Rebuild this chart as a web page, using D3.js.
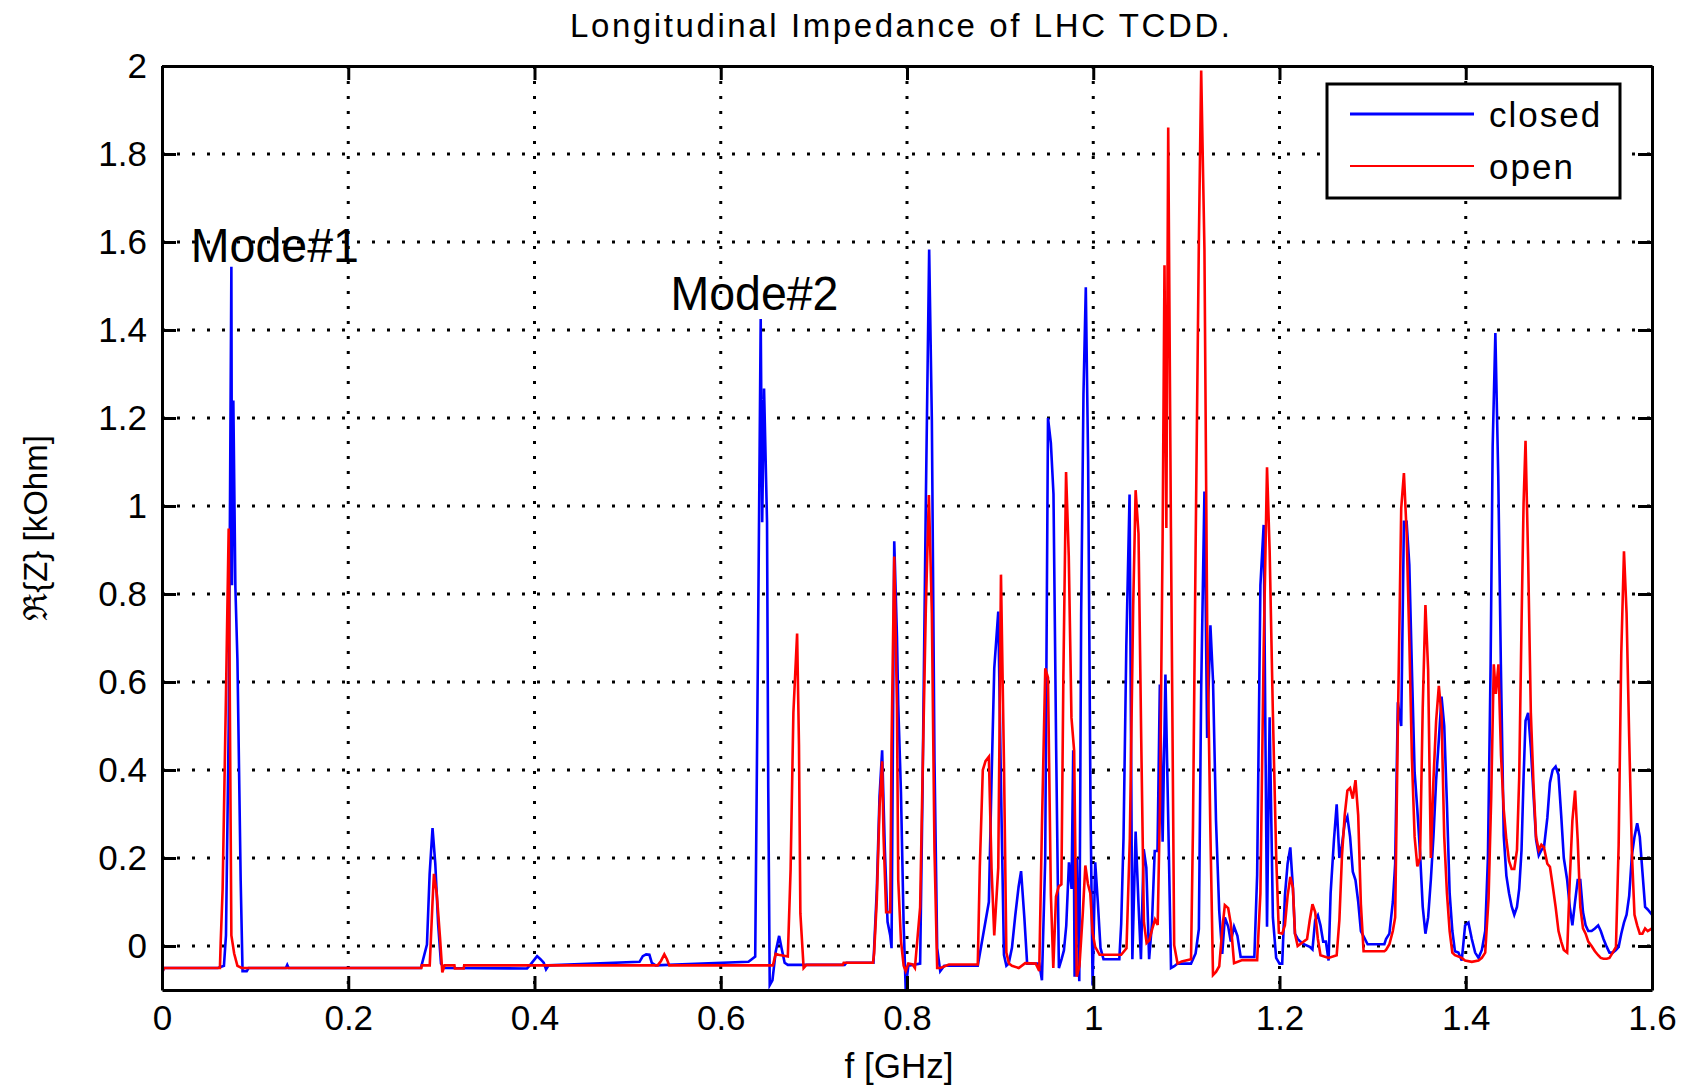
<!DOCTYPE html>
<html>
<head>
<meta charset="utf-8">
<script src="https://cdn.jsdelivr.net/npm/d3@7"></script>
<style>
  body { margin: 0; background: #fff; }
  text { font-family: "Liberation Sans", Arial, sans-serif; }
</style>
</head>
<body>
<div id="chart"></div>
<script>
// tick values
var xTicks = [0, 0.2, 0.4, 0.6, 0.8, 1, 1.2, 1.4, 1.6];
var yTicks = [0, 0.2, 0.4, 0.6, 0.8, 1, 1.2, 1.4, 1.6, 1.8, 2];

var seriesNames = ["closed", "open"];
var seriesColors = ["#0000ff", "#ff0000"];

// [f GHz, Re{Z} kOhm]
var closedPts = [
  [0,-0.062],[0.002,-0.05],[0.060,-0.05],[0.0665,-0.045],[0.0687,0.024],[0.0716,0.495],[0.0745,1.544],[0.0752,0.82],
  [0.0766,1.24],[0.0788,0.815],[0.081,0.65],[0.0845,0.147],[0.0865,-0.057],[0.091,-0.057],[0.093,-0.05],[0.133,-0.05],
  [0.1345,-0.043],[0.136,-0.05],[0.278,-0.05],[0.2845,0.003],[0.2874,0.164],[0.2905,0.268],[0.2935,0.186],[0.2965,0.05],
  [0.2996,-0.04],[0.303,-0.05],[0.392,-0.051],[0.395,-0.044],[0.4028,-0.023],[0.4064,-0.03],[0.4099,-0.038],[0.4124,-0.053],
  [0.4152,-0.044],[0.5128,-0.036],[0.5163,-0.023],[0.5199,-0.019],[0.5234,-0.02],[0.5259,-0.038],[0.53,-0.044],[0.6298,-0.036],
  [0.6333,-0.03],[0.637,-0.024],[0.640,0.686],[0.6429,1.425],[0.6445,0.963],[0.6465,1.267],[0.6497,0.963],[0.651,0.36],
  [0.6526,-0.089],[0.6555,-0.078],[0.659,-0.013],[0.6627,0.023],[0.6656,-0.008],[0.6686,-0.038],[0.672,-0.043],[0.733,-0.043],
  [0.735,-0.038],[0.764,-0.038],[0.7647,-0.005],[0.7676,0.129],[0.7705,0.34],[0.7733,0.445],[0.7762,0.22],[0.7791,0.055],
  [0.782,0.024],[0.7834,-0.005],[0.7863,0.92],[0.7892,0.705],[0.7906,0.548],[0.7935,0.35],[0.7964,0.048],[0.7986,-0.098],
  [0.8014,-0.045],[0.8141,-0.04],[0.8166,0.34],[0.8202,1.007],[0.8238,1.583],[0.8267,1.193],[0.8295,0.425],[0.8324,-0.005],
  [0.8357,-0.057],[0.84,-0.045],[0.876,-0.045],[0.8879,0.1],[0.8908,0.379],[0.8937,0.631],[0.898,0.76],[0.9009,0.367],
  [0.9041,-0.02],[0.9067,-0.045],[0.9092,-0.04],[0.9127,-0.004],[0.9163,0.07],[0.9198,0.134],[0.9225,0.17],[0.926,0.065],
  [0.929,-0.04],[0.942,-0.04],[0.9449,-0.078],[0.9484,0.196],[0.9514,1.2],[0.9545,1.143],[0.9573,1.027],[0.9602,0.444],
  [0.9631,-0.05],[0.966,-0.03],[0.9685,-0.01],[0.971,0.046],[0.9739,0.19],[0.9767,0.13],[0.9785,0.445],[0.98,-0.07],
  [0.9823,0.2],[0.985,-0.08],[0.987,0.75],[0.9895,1.255],[0.992,1.497],[0.9945,1.1],[0.997,0.328],[0.9993,-0.09],
  [1.0021,0.19],[1.0049,0.1],[1.0078,-0.005],[1.011,-0.03],[1.028,-0.03],[1.03,0.05],[1.0325,0.245],[1.0355,0.68],
  [1.039,1.026],[1.042,-0.03],[1.0455,0.26],[1.0485,0.1],[1.0512,-0.03],[1.0542,0.22],[1.057,0.178],[1.06,-0.03],
  [1.063,0.05],[1.066,0.216],[1.069,0.216],[1.0715,0.594],[1.0745,0.237],[1.0775,0.617],[1.081,0.234],[1.0835,-0.05],
  [1.087,-0.046],[1.0905,-0.04],[1.105,-0.04],[1.1099,-0.017],[1.1134,0.038],[1.1159,0.584],[1.1194,1.033],[1.1223,0.473],
  [1.1258,0.729],[1.1286,0.604],[1.1318,0.286],[1.1353,0.079],[1.1385,-0.018],[1.1413,0.065],[1.1449,0.044],[1.1477,0.01],
  [1.1512,0.044],[1.1548,0.023],[1.1583,-0.025],[1.173,-0.025],[1.176,0.162],[1.1795,0.82],[1.183,0.957],[1.1866,0.044],
  [1.1894,0.52],[1.1929,0.065],[1.1964,-0.027],[1.2,-0.04],[1.2029,-0.04],[1.2058,0.114],[1.2087,0.187],[1.2116,0.224],
  [1.2144,0.132],[1.2166,0.028],[1.2195,0.016],[1.2224,0.01],[1.226,0.004],[1.2325,-0.002],[1.2354,-0.008],[1.2383,0.059],
  [1.2412,0.07],[1.244,0.047],[1.2469,0.01],[1.2498,0.01],[1.2527,-0.033],[1.2549,0.12],[1.2585,0.242],[1.2614,0.322],
  [1.2643,0.2],[1.2671,0.23],[1.27,0.279],[1.2729,0.294],[1.2758,0.248],[1.2787,0.169],[1.2816,0.15],[1.2845,0.101],
  [1.2874,0.034],[1.2903,0.022],[1.2946,0.004],[1.3126,0.004],[1.3144,0.016],[1.318,0.028],[1.3217,0.1],[1.3242,0.187],
  [1.3271,0.554],[1.3307,0.5],[1.3336,0.964],[1.3365,0.964],[1.3394,0.867],[1.3422,0.628],[1.3451,0.395],[1.348,0.31],
  [1.3509,0.212],[1.3538,0.089],[1.3567,0.028],[1.3596,0.065],[1.3625,0.15],[1.3653,0.248],[1.3682,0.377],[1.3711,0.469],
  [1.374,0.567],[1.3769,0.5],[1.3798,0.322],[1.3827,0.12],[1.3856,0.034],[1.3884,-0.012],[1.3921,-0.015],[1.3957,-0.033],
  [1.3993,0.047],[1.4029,0.053],[1.4065,0.016],[1.4101,-0.015],[1.4137,-0.027],[1.4173,-0.009],[1.4209,0.034],[1.4238,0.2],
  [1.4267,0.64],[1.4289,1.136],[1.4318,1.393],[1.4349,1.069],[1.4377,0.64],[1.4408,0.25],[1.4436,0.16],[1.4465,0.12],
  [1.4493,0.09],[1.4521,0.071],[1.455,0.089],[1.4574,0.13],[1.4599,0.218],[1.4621,0.383],[1.4642,0.512],[1.467,0.53],
  [1.4699,0.45],[1.4727,0.346],[1.4755,0.242],[1.4784,0.206],[1.4812,0.218],[1.484,0.224],[1.4876,0.291],[1.4904,0.371],
  [1.4933,0.4],[1.4965,0.408],[1.4996,0.389],[1.5025,0.297],[1.5053,0.2],[1.5089,0.15],[1.5117,0.089],[1.5145,0.047],
  [1.5174,0.101],[1.5202,0.15],[1.523,0.15],[1.5259,0.077],[1.5287,0.047],[1.5316,0.034],[1.5351,0.034],[1.5387,0.04],
  [1.5422,0.047],[1.545,0.034],[1.5479,0.016],[1.5514,-0.002],[1.5543,-0.015],[1.5578,-0.015],[1.5613,-0.009],[1.5642,-0.002],
  [1.567,0.028],[1.5699,0.053],[1.5727,0.071],[1.5755,0.114],[1.5784,0.206],[1.5812,0.248],[1.5841,0.279],[1.5869,0.248],
  [1.5897,0.169],[1.5926,0.089],[1.5954,0.083],[1.6,0.071]
];

var openPts = [
  [0,-0.062],[0.002,-0.05],[0.0622,-0.05],[0.063,0.007],[0.0651,0.129],[0.0687,0.571],[0.0716,0.949],[0.0745,0.024],
  [0.0775,-0.017],[0.081,-0.045],[0.0856,-0.05],[0.2785,-0.05],[0.279,-0.044],[0.2875,-0.044],[0.2905,0.1],[0.292,0.164],
  [0.295,0.12],[0.2985,0.02],[0.301,-0.06],[0.3035,-0.044],[0.314,-0.044],[0.3145,-0.051],[0.324,-0.051],[0.3245,-0.044],
  [0.5323,-0.044],[0.5358,-0.034],[0.5394,-0.019],[0.5422,-0.03],[0.5447,-0.044],[0.656,-0.044],[0.659,-0.018],[0.662,-0.02],
  [0.672,-0.024],[0.675,0.173],[0.678,0.53],[0.682,0.71],[0.684,0.457],[0.6855,0.074],[0.689,-0.05],[0.692,-0.043],
  [0.731,-0.043],[0.732,-0.038],[0.7635,-0.038],[0.7647,-0.016],[0.7676,0.106],[0.7705,0.315],[0.7733,0.42],[0.7748,0.25],
  [0.7776,0.077],[0.782,0.077],[0.7834,0.457],[0.7863,0.885],[0.7892,0.548],[0.7906,0.15],[0.7935,0.012],[0.7964,-0.045],
  [0.7986,-0.057],[0.8014,-0.04],[0.806,-0.042],[0.8085,-0.05],[0.8141,0.088],[0.8166,0.373],[0.8202,0.765],[0.8235,1.025],
  [0.8267,0.755],[0.8295,0.218],[0.8324,-0.05],[0.836,-0.05],[0.845,-0.042],[0.876,-0.042],[0.8782,0.181],[0.8814,0.4],
  [0.8843,0.42],[0.8879,0.43],[0.8908,0.175],[0.8937,0.024],[0.898,0.178],[0.9009,0.844],[0.9041,0.42],[0.9067,-0.015],
  [0.9095,-0.04],[0.9127,-0.045],[0.92,-0.05],[0.9269,-0.039],[0.9383,-0.04],[0.942,-0.057],[0.9449,0.274],[0.9485,0.631],
  [0.9514,0.61],[0.9545,0.117],[0.9571,-0.05],[0.96,0.112],[0.9629,0.135],[0.9658,0.14],[0.9679,0.61],[0.9708,1.077],
  [0.9737,0.887],[0.9766,0.519],[0.9795,0.443],[0.9823,-0.07],[0.9852,-0.045],[0.9887,0.072],[0.9915,0.183],[0.9943,0.141],
  [0.9968,0.12],[0.9993,0.03],[1.0021,-0.002],[1.0068,-0.02],[1.03,-0.02],[1.0357,-0.005],[1.0393,0.245],[1.0429,0.774],
  [1.0455,1.036],[1.0486,0.937],[1.0515,0.472],[1.0544,0.054],[1.0573,0.007],[1.0602,0.013],[1.0631,0.037],[1.0663,0.06],
  [1.0692,0.048],[1.0717,0.327],[1.0745,0.931],[1.0765,1.547],[1.0785,0.95],[1.0805,1.86],[1.0834,0.95],[1.0869,0.002],
  [1.0905,-0.04],[1.095,-0.035],[1.105,-0.03],[1.1071,0.272],[1.1099,0.9],[1.1134,1.6],[1.1159,1.99],[1.1194,1.584],
  [1.1223,0.736],[1.1258,0.259],[1.1286,-0.066],[1.1318,-0.059],[1.1353,-0.046],[1.1385,0.037],[1.1413,0.093],[1.1449,0.086],
  [1.1477,0.051],[1.1512,-0.039],[1.16,-0.032],[1.176,-0.032],[1.1795,0.12],[1.183,0.674],[1.1866,1.088],[1.1894,0.9],
  [1.1929,0.528],[1.1965,0.2],[1.1993,0.03],[1.2029,0.028],[1.2058,0.047],[1.2087,0.114],[1.2116,0.157],[1.2144,0.132],
  [1.2166,0.028],[1.2195,0],[1.2296,0.016],[1.2325,0.059],[1.2354,0.095],[1.2383,0.077],[1.2412,0.016],[1.244,-0.021],
  [1.2527,-0.027],[1.2614,-0.021],[1.2643,0.059],[1.2671,0.206],[1.27,0.297],[1.2729,0.353],[1.2758,0.359],[1.2787,0.335],
  [1.2816,0.377],[1.2845,0.297],[1.2874,0.095],[1.2903,-0.012],[1.3126,-0.012],[1.3144,-0.009],[1.318,0.004],[1.3217,0.034],
  [1.3242,0.065],[1.3271,0.5],[1.3307,0.995],[1.3336,1.075],[1.3365,0.94],[1.3394,0.695],[1.3422,0.426],[1.3451,0.248],
  [1.348,0.181],[1.3509,0.2],[1.3538,0.542],[1.3567,0.775],[1.3596,0.628],[1.3625,0.2],[1.3653,0.377],[1.3682,0.512],
  [1.3711,0.591],[1.374,0.524],[1.3769,0.248],[1.3798,0.12],[1.3827,0.034],[1.3856,-0.015],[1.3884,-0.021],[1.3957,-0.027],
  [1.3993,-0.033],[1.4065,-0.036],[1.4137,-0.033],[1.4173,-0.027],[1.4209,-0.015],[1.4245,0.108],[1.4273,0.334],[1.4301,0.64],
  [1.4323,0.573],[1.4351,0.64],[1.4379,0.432],[1.4408,0.31],[1.4436,0.242],[1.4465,0.193],[1.4493,0.175],[1.4521,0.175],
  [1.455,0.218],[1.4574,0.383],[1.4599,0.732],[1.4621,1.007],[1.4642,1.148],[1.467,0.879],[1.4699,0.53],[1.4727,0.37],
  [1.4755,0.248],[1.4784,0.218],[1.4812,0.23],[1.484,0.224],[1.4876,0.187],[1.4904,0.18],[1.4933,0.138],[1.4965,0.089],
  [1.4996,0.034],[1.5025,0.01],[1.5053,-0.009],[1.5089,-0.015],[1.5117,0.15],[1.5145,0.285],[1.5174,0.353],[1.5202,0.242],
  [1.523,0.089],[1.5259,0.04],[1.5287,0.028],[1.5316,0.01],[1.5351,0],[1.5387,-0.012],[1.5422,-0.021],[1.545,-0.027],
  [1.5479,-0.029],[1.5514,-0.029],[1.5543,-0.027],[1.5578,-0.015],[1.5613,-0.002],[1.5642,0.23],[1.567,0.665],[1.5699,0.897],
  [1.5727,0.756],[1.5755,0.475],[1.5784,0.212],[1.5812,0.071],[1.5841,0.047],[1.5869,0.028],[1.5897,0.028],[1.5926,0.04],
  [1.5954,0.034],[1.6,0.04]
];

var annotations = [
  { text: "Mode#1", f: 0.031, z: 1.555 },
  { text: "Mode#2", f: 0.546, z: 1.445 }
];

drawChart();

function drawChart() {
  var w = 1691;
  var h = 1088;
  var left = 162, right = 1652, top = 66, bottom = 990;

  var svg = d3.select("#chart")
    .append("svg")
    .attr("width", w)
    .attr("height", h)
    .style("display", "block");

  svg.append("rect")
    .attr("width", w)
    .attr("height", h)
    .attr("fill", "#fff");

  var xScale = d3.scaleLinear().domain([0, 1.6]).range([left, right]);
  var yScale = d3.scaleLinear().domain([-0.1, 2]).range([bottom, top]);

  svg.append("clipPath")
    .attr("id", "plotClip")
    .append("rect")
    .attr("x", left)
    .attr("y", top)
    .attr("width", right - left)
    .attr("height", bottom - top);

  // dotted grid
  var grid = svg.append("g");
  grid.selectAll(".vgrid")
    .data(xTicks.slice(1, -1))
    .enter()
    .append("line")
    .attr("x1", function(d) { return xScale(d); })
    .attr("x2", function(d) { return xScale(d); })
    .attr("y1", top)
    .attr("y2", bottom)
    .attr("stroke", "#000")
    .attr("stroke-width", 3)
    .attr("stroke-dasharray", "3,12");
  grid.selectAll(".hgrid")
    .data(yTicks.slice(0, -1))
    .enter()
    .append("line")
    .attr("x1", left)
    .attr("x2", right)
    .attr("y1", function(d) { return yScale(d); })
    .attr("y2", function(d) { return yScale(d); })
    .attr("stroke", "#000")
    .attr("stroke-width", 3)
    .attr("stroke-dasharray", "3,12");

  var line = d3.line()
    .x(function(d) { return xScale(d[0]); })
    .y(function(d) { return yScale(d[1]); });

  var plot = svg.append("g").attr("clip-path", "url(#plotClip)");
  [closedPts, openPts].forEach(function(pts, i) {
    plot.append("path")
      .datum(pts)
      .attr("fill", "none")
      .attr("stroke", seriesColors[i])
      .attr("stroke-width", 2.6)
      .attr("d", line);
  });

  // axes, ticks pointing inward
  var fmt = function(d) { return String(d); };
  var xAxis = svg.append("g")
    .attr("transform", "translate(0," + bottom + ")")
    .call(d3.axisBottom(xScale).tickValues(xTicks).tickFormat(fmt).tickSizeInner(-14).tickSizeOuter(0).tickPadding(15));
  var yAxis = svg.append("g")
    .attr("transform", "translate(" + left + ",0)")
    .call(d3.axisLeft(yScale).tickValues(yTicks).tickFormat(fmt).tickSizeInner(-14).tickSizeOuter(0).tickPadding(15));
  var xTop = svg.append("g")
    .attr("transform", "translate(0," + top + ")")
    .call(d3.axisTop(xScale).tickValues(xTicks).tickSizeInner(-14).tickSizeOuter(0).tickFormat(""));
  var yRight = svg.append("g")
    .attr("transform", "translate(" + right + ",0)")
    .call(d3.axisRight(yScale).tickValues(yTicks).tickSizeInner(-14).tickSizeOuter(0).tickFormat(""));

  [xAxis, yAxis, xTop, yRight].forEach(function(g) {
    g.selectAll("path, line").attr("stroke", "#000").attr("stroke-width", 3);
    g.selectAll("text")
      .attr("fill", "#000")
      .style("font-size", "35px")
      .style("font-family", "'Liberation Sans', Arial, sans-serif");
  });

  // title and axis labels
  svg.append("text")
    .text("Longitudinal Impedance of LHC TCDD.")
    .attr("x", 900)
    .attr("y", 37)
    .attr("text-anchor", "middle")
    .attr("textLength", 660)
    .attr("lengthAdjust", "spacing")
    .attr("font-size", "33px");

  svg.append("text")
    .text("f [GHz]")
    .attr("x", 899)
    .attr("y", 1078)
    .attr("text-anchor", "middle")
    .attr("font-size", "35px");

  svg.append("text")
    .text("\u211C{Z} [kOhm]")
    .attr("transform", "translate(47," + ((top + bottom) / 2) + ") rotate(-90)")
    .attr("text-anchor", "middle")
    .attr("font-size", "33px");

  // mode labels
  svg.selectAll(".mode")
    .data(annotations)
    .enter()
    .append("text")
    .attr("class", "mode")
    .text(function(d) { return d.text; })
    .attr("x", function(d) { return xScale(d.f); })
    .attr("y", function(d) { return yScale(d.z); })
    .attr("textLength", 168)
    .attr("lengthAdjust", "spacingAndGlyphs")
    .attr("font-size", "49px");

  // legend
  var legend = svg.append("g");
  legend.append("rect")
    .attr("x", 1327)
    .attr("y", 84)
    .attr("width", 293)
    .attr("height", 114)
    .attr("fill", "#fff")
    .attr("stroke", "#000")
    .attr("stroke-width", 3);
  seriesNames.forEach(function(name, i) {
    var ly = 114 + i * 52;
    legend.append("line")
      .attr("x1", 1350)
      .attr("x2", 1474)
      .attr("y1", ly)
      .attr("y2", ly)
      .attr("stroke", seriesColors[i])
      .attr("stroke-width", i === 0 ? 3 : 2);
    legend.append("text")
      .text(name)
      .attr("x", 1489)
      .attr("y", ly + 13)
      .attr("font-size", "35px")
      .attr("letter-spacing", "2px");
  });
}
</script>
</body>
</html>
